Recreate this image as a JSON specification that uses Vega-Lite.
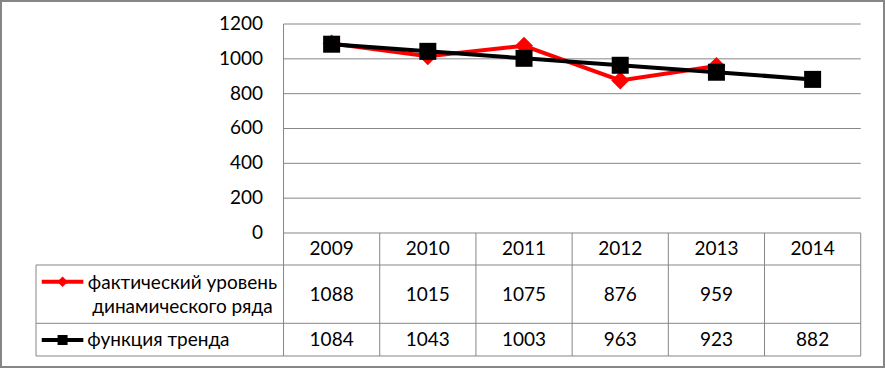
{
  "$schema": "https://vega.github.io/schema/vega-lite/v6.json",
  "width": 883,
  "height": 366,
  "padding": {"left": 1, "top": 1, "right": 1, "bottom": 1},
  "autosize": {"type": "none"},
  "background": "white",
  "config": {
    "view": {"stroke": "#868686", "strokeWidth": 2},
    "axis": {"disable": true},
    "text": {"font": "Lato", "fontSize": 19, "color": "#000000", "baseline": "middle"}
  },
  "datasets": {
    "series": [
      {"year": 2009, "series": "фактический уровень динамического ряда", "value": 1088},
      {"year": 2010, "series": "фактический уровень динамического ряда", "value": 1015},
      {"year": 2011, "series": "фактический уровень динамического ряда", "value": 1075},
      {"year": 2012, "series": "фактический уровень динамического ряда", "value": 876},
      {"year": 2013, "series": "фактический уровень динамического ряда", "value": 959},
      {"year": 2009, "series": "функция тренда", "value": 1084},
      {"year": 2010, "series": "функция тренда", "value": 1043},
      {"year": 2011, "series": "функция тренда", "value": 1003},
      {"year": 2012, "series": "функция тренда", "value": 963},
      {"year": 2013, "series": "функция тренда", "value": 923},
      {"year": 2014, "series": "функция тренда", "value": 882}
    ],
    "ticks": [{"v": 0}, {"v": 200}, {"v": 400}, {"v": 600}, {"v": 800}, {"v": 1000}, {"v": 1200}],
    "one": [{"k": 1}]
  },
  "layer": [
    {
      "data": {"name": "ticks"},
      "mark": {"type": "rule", "color": "#868686", "strokeWidth": 1},
      "encoding": {
        "x": {"datum": 2008.5, "type": "quantitative", "scale": {"domain": [2005.563, 2014.742], "nice": false, "zero": false}, "axis": null},
        "x2": {"datum": 2014.5},
        "y": {"field": "v", "type": "quantitative", "scale": {"domain": [-769.4, 1332.06], "nice": false, "zero": false}, "axis": null}
      }
    },
    {
      "data": {"name": "ticks"},
      "mark": {"type": "text", "align": "right"},
      "encoding": {
        "x": {"datum": 2008.287, "type": "quantitative"},
        "y": {"field": "v", "type": "quantitative"},
        "text": {"field": "v", "type": "quantitative", "format": "d"}
      }
    },
    {"data": {"name": "one"}, "mark": {"type": "rule", "color": "#868686", "strokeWidth": 1}, "encoding": {"x": {"datum": 2008.5, "type": "quantitative"}, "y": {"datum": 1200, "type": "quantitative"}, "y2": {"datum": -706.2}}},
    {"data": {"name": "one"}, "mark": {"type": "rule", "color": "#868686", "strokeWidth": 1}, "encoding": {"x": {"datum": 2009.5, "type": "quantitative"}, "y": {"datum": 0, "type": "quantitative"}, "y2": {"datum": -706.2}}},
    {"data": {"name": "one"}, "mark": {"type": "rule", "color": "#868686", "strokeWidth": 1}, "encoding": {"x": {"datum": 2010.5, "type": "quantitative"}, "y": {"datum": 0, "type": "quantitative"}, "y2": {"datum": -706.2}}},
    {"data": {"name": "one"}, "mark": {"type": "rule", "color": "#868686", "strokeWidth": 1}, "encoding": {"x": {"datum": 2011.5, "type": "quantitative"}, "y": {"datum": 0, "type": "quantitative"}, "y2": {"datum": -706.2}}},
    {"data": {"name": "one"}, "mark": {"type": "rule", "color": "#868686", "strokeWidth": 1}, "encoding": {"x": {"datum": 2012.5, "type": "quantitative"}, "y": {"datum": 0, "type": "quantitative"}, "y2": {"datum": -706.2}}},
    {"data": {"name": "one"}, "mark": {"type": "rule", "color": "#868686", "strokeWidth": 1}, "encoding": {"x": {"datum": 2013.5, "type": "quantitative"}, "y": {"datum": 0, "type": "quantitative"}, "y2": {"datum": -706.2}}},
    {"data": {"name": "one"}, "mark": {"type": "rule", "color": "#868686", "strokeWidth": 1}, "encoding": {"x": {"datum": 2014.5, "type": "quantitative"}, "y": {"datum": 0, "type": "quantitative"}, "y2": {"datum": -706.2}}},
    {"data": {"name": "one"}, "mark": {"type": "rule", "color": "#868686", "strokeWidth": 1}, "encoding": {"x": {"datum": 2005.927, "type": "quantitative"}, "y": {"datum": -183.7, "type": "quantitative"}, "y2": {"datum": -706.2}}},
    {"data": {"name": "one"}, "mark": {"type": "rule", "color": "#868686", "strokeWidth": 1}, "encoding": {"x": {"datum": 2005.927, "type": "quantitative"}, "x2": {"datum": 2014.5}, "y": {"datum": -183.7, "type": "quantitative"}}},
    {"data": {"name": "one"}, "mark": {"type": "rule", "color": "#868686", "strokeWidth": 1}, "encoding": {"x": {"datum": 2005.927, "type": "quantitative"}, "x2": {"datum": 2014.5}, "y": {"datum": -518.5, "type": "quantitative"}}},
    {"data": {"name": "one"}, "mark": {"type": "rule", "color": "#868686", "strokeWidth": 1}, "encoding": {"x": {"datum": 2005.927, "type": "quantitative"}, "x2": {"datum": 2014.5}, "y": {"datum": -706.2, "type": "quantitative"}}},
    {
      "data": {"name": "series"},
      "transform": [{"filter": "datum.series === 'функция тренда'"}],
      "mark": {"type": "text", "align": "center"},
      "encoding": {
        "x": {"field": "year", "type": "quantitative"},
        "y": {"datum": -91.9, "type": "quantitative"},
        "text": {"field": "year", "type": "quantitative", "format": "d"}
      }
    },
    {
      "data": {"name": "series"},
      "transform": [{"filter": "datum.series !== 'функция тренда'"}],
      "mark": {"type": "text", "align": "center"},
      "encoding": {
        "x": {"field": "year", "type": "quantitative"},
        "y": {"datum": -356, "type": "quantitative"},
        "text": {"field": "value", "type": "quantitative", "format": "d"}
      }
    },
    {
      "data": {"name": "series"},
      "transform": [{"filter": "datum.series === 'функция тренда'"}],
      "mark": {"type": "text", "align": "center"},
      "encoding": {
        "x": {"field": "year", "type": "quantitative"},
        "y": {"datum": -614.3, "type": "quantitative"},
        "text": {"field": "value", "type": "quantitative", "format": "d"}
      }
    },
    {
      "data": {"values": [{"label": ["фактический уровень", "динамического ряда"]}]},
      "mark": {"type": "text", "align": "center", "lineHeight": 24},
      "encoding": {
        "x": {"datum": 2007.449, "type": "quantitative"},
        "y": {"datum": -288.8, "type": "quantitative"},
        "text": {"field": "label"}
      }
    },
    {
      "data": {"values": [{"label": "функция тренда"}]},
      "mark": {"type": "text", "align": "left"},
      "encoding": {
        "x": {"datum": 2006.4605, "type": "quantitative"},
        "y": {"datum": -614.3, "type": "quantitative"},
        "text": {"field": "label"}
      }
    },
    {"data": {"name": "one"}, "mark": {"type": "rule", "color": "#ff0000", "strokeWidth": 4}, "encoding": {"x": {"datum": 2005.9865, "type": "quantitative"}, "x2": {"datum": 2006.419}, "y": {"datum": -279.6, "type": "quantitative"}}},
    {"data": {"name": "one"}, "mark": {"type": "point", "shape": "diamond", "filled": true, "color": "#ff0000", "size": 110, "opacity": 1}, "encoding": {"x": {"datum": 2006.203, "type": "quantitative"}, "y": {"datum": -279.6, "type": "quantitative"}}},
    {"data": {"name": "one"}, "mark": {"type": "rule", "color": "#000000", "strokeWidth": 4}, "encoding": {"x": {"datum": 2005.9865, "type": "quantitative"}, "x2": {"datum": 2006.419}, "y": {"datum": -614.3, "type": "quantitative"}}},
    {"data": {"name": "one"}, "mark": {"type": "point", "shape": "square", "filled": true, "color": "#000000", "size": 100, "opacity": 1}, "encoding": {"x": {"datum": 2006.203, "type": "quantitative"}, "y": {"datum": -614.3, "type": "quantitative"}}},
    {
      "data": {"name": "series"},
      "transform": [{"filter": "datum.series !== 'функция тренда'"}],
      "mark": {"type": "line", "color": "#ff0000", "strokeWidth": 4, "point": {"shape": "diamond", "filled": true, "color": "#ff0000", "size": 324, "opacity": 1}},
      "encoding": {
        "x": {"field": "year", "type": "quantitative"},
        "y": {"field": "value", "type": "quantitative"}
      }
    },
    {
      "data": {"name": "series"},
      "transform": [{"filter": "datum.series === 'функция тренда'"}],
      "mark": {"type": "line", "color": "#000000", "strokeWidth": 4, "point": {"shape": "square", "filled": true, "color": "#000000", "size": 289, "opacity": 1}},
      "encoding": {
        "x": {"field": "year", "type": "quantitative"},
        "y": {"field": "value", "type": "quantitative"}
      }
    }
  ]
}
